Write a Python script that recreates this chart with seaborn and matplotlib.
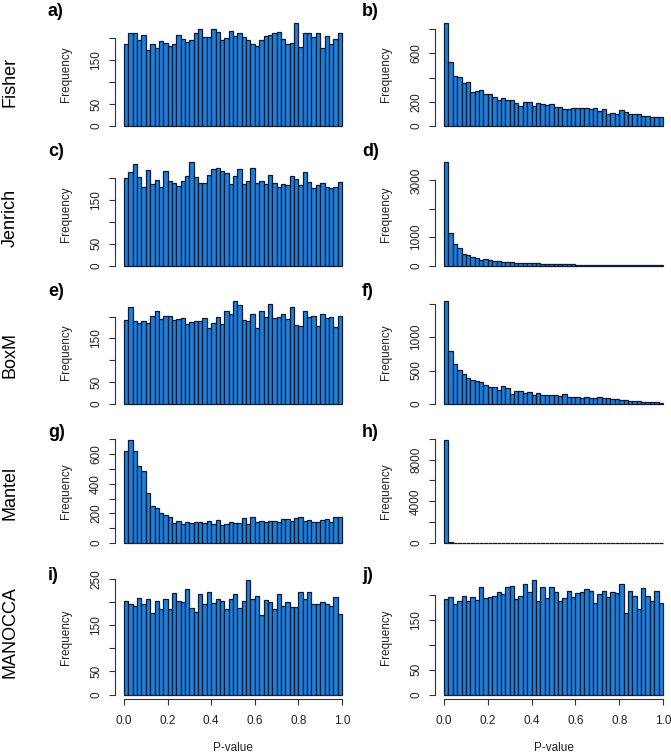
import matplotlib
matplotlib.use('Agg')
import matplotlib.pyplot as plt
import numpy as np
import pandas as pd
import seaborn as sns

plt.rcParams['font.family'] = ['Liberation Sans', 'DejaVu Sans']

# Row names and panel letters
methods = ['Fisher', 'Jenrich', 'BoxM', 'Mantel', 'MANOCCA']
letters = [['a)', 'b)'], ['c)', 'd)'], ['e)', 'f)'], ['g)', 'h)'], ['i)', 'j)']]

# Bin counts (50 bins of width 0.02 on [0, 1])
fisher_a = [188, 212, 212, 195, 208, 173, 188, 178, 194, 190, 182, 188, 208, 199, 192, 196, 211, 221, 203, 203,
            221, 215, 196, 201, 216, 206, 212, 202, 196, 187, 182, 196, 205, 208, 211, 215, 198, 188, 190, 236,
            181, 212, 211, 204, 211, 178, 205, 187, 198, 212]
fisher_b = [855, 530, 414, 403, 356, 364, 281, 289, 297, 264, 264, 236, 217, 231, 217, 217, 192, 167, 200, 197,
            169, 186, 181, 172, 181, 156, 156, 144, 139, 147, 147, 147, 147, 139, 147, 125, 142, 103, 106, 100,
            131, 114, 100, 100, 100, 83, 81, 72, 72, 72]
jenrich_c = [200, 214, 232, 203, 180, 219, 187, 196, 180, 216, 193, 190, 181, 193, 206, 237, 203, 190, 190, 207,
             221, 223, 216, 212, 187, 206, 221, 187, 193, 223, 189, 193, 187, 208, 189, 180, 187, 184, 204, 198,
             184, 214, 192, 177, 184, 189, 179, 177, 180, 192]
jenrich_d = [3650, 1150, 765, 620, 410, 365, 295, 250, 200, 225, 200, 175, 165, 140, 130, 130, 105, 95, 95, 95,
             85, 80, 70, 70, 60, 55, 55, 45, 40, 55, 35, 30, 28, 25, 22, 20, 18, 16, 15, 14,
             12, 11, 10, 9, 8, 7, 6, 6, 5, 5]
boxm_e = [193, 221, 191, 186, 191, 186, 202, 214, 195, 202, 201, 193, 195, 198, 184, 188, 191, 191, 198, 175,
          186, 200, 184, 212, 205, 237, 227, 193, 191, 207, 175, 212, 200, 230, 198, 200, 205, 195, 223, 182,
          179, 214, 200, 202, 179, 207, 198, 200, 177, 202]
boxm_f = [1545, 795, 595, 510, 455, 385, 360, 345, 325, 280, 250, 250, 205, 265, 235, 145, 190, 190, 160, 175,
          130, 160, 130, 130, 130, 130, 115, 145, 100, 100, 100, 85, 100, 85, 85, 100, 85, 85, 70, 70,
          55, 55, 40, 40, 40, 30, 25, 25, 25, 15]
mantel_g = [624, 699, 618, 523, 489, 339, 251, 238, 204, 190, 176, 136, 149, 129, 143, 136, 143, 143, 136, 149,
            129, 156, 122, 129, 143, 136, 136, 170, 129, 176, 143, 149, 143, 149, 149, 143, 163, 163, 149, 170,
            176, 149, 156, 143, 143, 156, 163, 143, 176, 174]
mantel_h = [9920, 60, 15, 0, 0, 0, 0, 0, 0, 0, 0, 0, 0, 0, 0, 0, 0, 0, 0, 0,
            0, 0, 0, 0, 0, 0, 0, 0, 0, 0, 0, 0, 0, 0, 0, 0, 0, 0, 0, 0,
            0, 0, 0, 0, 0, 0, 0, 0, 0, 0]
manocca_i = [202, 196, 192, 209, 196, 206, 176, 202, 185, 206, 185, 219, 202, 200, 228, 187, 178, 217, 195, 222,
             198, 206, 202, 185, 206, 217, 187, 202, 248, 206, 213, 172, 204, 200, 185, 217, 191, 200, 189, 189,
             222, 206, 222, 196, 196, 200, 195, 192, 212, 175]
manocca_j = [192, 196, 183, 188, 198, 189, 196, 190, 216, 194, 196, 198, 206, 202, 216, 219, 192, 198, 223, 206,
             231, 188, 216, 194, 216, 206, 188, 194, 209, 196, 204, 206, 213, 209, 184, 202, 208, 196, 206, 204,
             223, 164, 209, 198, 172, 214, 198, 188, 208, 184]

panels = [[fisher_a, fisher_b], [jenrich_c, jenrich_d], [boxm_e, boxm_f],
          [mantel_g, mantel_h], [manocca_i, manocca_j]]

# y ticks and which labels R kept (others dropped for overlap)
yticks = [[[0, 50, 100, 150, 200], [0, 200, 400, 600, 800]],
          [[0, 50, 100, 150, 200], [0, 1000, 2000, 3000]],
          [[0, 50, 100, 150, 200], [0, 500, 1000, 1500]],
          [[0, 100, 200, 300, 400, 500, 600, 700], [0, 2000, 4000, 6000, 8000, 10000]],
          [[0, 50, 100, 150, 200, 250], [0, 50, 100, 150, 200]]]
ylabels = [[['0', '50', '', '150', ''], ['0', '200', '', '600', '']],
           [['0', '50', '', '150', ''], ['0', '1000', '', '3000']],
           [['0', '50', '', '150', ''], ['0', '500', '1000', '']],
           [['0', '', '200', '', '400', '', '600', ''], ['0', '', '4000', '', '8000', '']],
           [['0', '50', '', '150', '', '250'], ['0', '50', '', '150', '']]]
xticks = [0.0, 0.2, 0.4, 0.6, 0.8, 1.0]
xlabels = ['0.0', '0.2', '0.4', '0.6', '0.8', '1.0']

n_bins = 50
centers = (np.arange(n_bins) + 0.5) / n_bins

fill = '#1f80dc'
edge = '#0d1b33'
axis_col = '#333333'

W, H = 671, 754
fig = plt.figure(figsize=(W / 100, H / 100), dpi=100)

# pixel geometry of the data area (0..1, 0..max)
row_base = [126, 265.5, 404, 543, 694.5]
row_top = [22.5, 162, 300.5, 439.5, 580]
col_x0 = [124, 444]
col_x1 = [342, 663]
label_y = [82, 218, 355, 493, 632]
letter_y = [11, 151, 291, 432, 575]
letter_x = [48, 362]

for r in range(5):
    for c in range(2):
        counts = np.asarray(panels[r][c], dtype=float)
        df = pd.DataFrame({'p': centers, 'n': counts})
        dw = col_x1[c] - col_x0[c]
        dh = row_base[r] - row_top[r]
        left = col_x0[c] - 0.04 * dw
        bottom = row_base[r] + 0.04 * dh
        ax = fig.add_axes([left / W, 1 - bottom / H, 1.08 * dw / W, 1.08 * dh / H])

        sns.histplot(data=df, x='p', weights='n', bins=n_bins, binrange=(0, 1), ax=ax,
                     color=fill, edgecolor=edge, linewidth=0.9, alpha=1)

        top = counts.max()
        ax.set_xlim(-0.04, 1.04)
        ax.set_ylim(-0.04 * top, 1.04 * top)
        ax.set_facecolor('white')
        for s in ['top', 'right']:
            ax.spines[s].set_visible(False)
        ax.spines['left'].set_bounds(0, yticks[r][c][-1])
        ax.spines['left'].set_color(axis_col)
        ax.spines['left'].set_linewidth(0.8)
        ax.set_yticks(yticks[r][c])
        ax.set_yticklabels(ylabels[r][c], rotation=90, va='center')
        ax.tick_params(axis='y', length=4.5, width=0.8, color=axis_col, pad=5,
                       labelsize=8.5, labelcolor='#222222')
        ax.set_ylabel('')
        ax.set_xlabel('')
        ax.text(-0.21, 0.5, 'Frequency', rotation=90, ha='center', va='center',
                fontsize=8.5, color='#222222', transform=ax.transAxes)

        if r == 4:
            ax.spines['bottom'].set_bounds(0, 1)
            ax.spines['bottom'].set_color(axis_col)
            ax.spines['bottom'].set_linewidth(0.8)
            ax.set_xticks(xticks)
            ax.set_xticklabels(xlabels)
            ax.tick_params(axis='x', length=4.5, width=0.8, color=axis_col, pad=7,
                           labelsize=8.5, labelcolor='#222222')
            ax.text(0.5, -0.396, 'P-value', ha='center', va='center', fontsize=8.5,
                    color='#222222', transform=ax.transAxes)
        else:
            ax.spines['bottom'].set_visible(False)
            ax.set_xticks([])

        fig.text(letter_x[c] / W, 1 - letter_y[r] / H, letters[r][c], ha='left', va='center',
                 fontsize=13, fontweight='bold')

    fig.text(10 / W, 1 - label_y[r] / H, methods[r], rotation=90, ha='center', va='center',
             fontsize=13)

fig.savefig('out.png', dpi=100)
